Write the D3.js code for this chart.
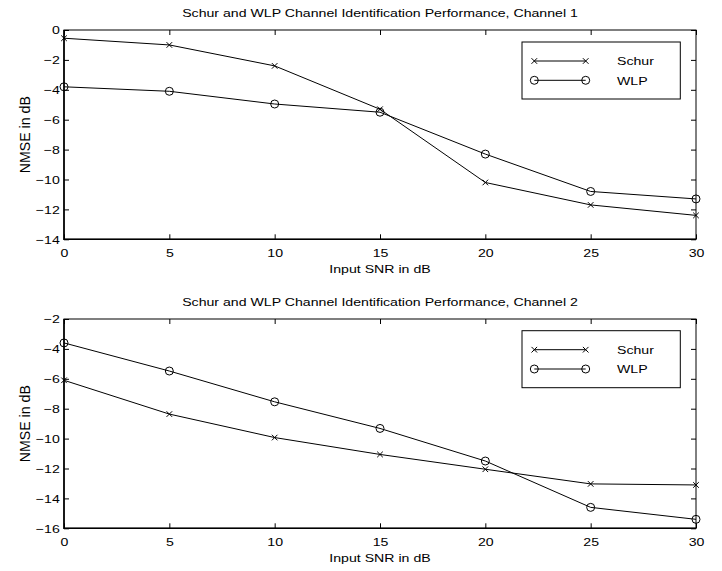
<!DOCTYPE html>
<html><head><meta charset="utf-8">
<script src="https://cdn.jsdelivr.net/npm/d3@7"></script>
<style>
html,body{margin:0;padding:0;background:#fff;}
svg{display:block;font-family:"Liberation Sans",Arial,sans-serif;}
</style></head>
<body>
<script>
const snr = [0, 5, 10, 15, 20, 25, 30];
const ch1Schur = [-0.55, -1.0, -2.4, -5.3, -10.2, -11.7, -12.4];
const ch1WLP = [-3.8, -4.1, -4.95, -5.5, -8.3, -10.8, -11.3];
const ch2Schur = [-6.1, -8.36, -9.93, -11.06, -12.05, -13.03, -13.1];
const ch2WLP = [-3.6, -5.48, -7.54, -9.32, -11.5, -14.6, -15.4];
const xTicks = [0, 5, 10, 15, 20, 25, 30];
const yTicks1 = [0, -2, -4, -6, -8, -10, -12, -14];
const yTicks2 = [-2, -4, -6, -8, -10, -12, -14, -16];
const titles = ["Schur and WLP Channel Identification Performance, Channel 1",
                "Schur and WLP Channel Identification Performance, Channel 2"];
const seriesNames = ["Schur", "WLP"];

const W = 722, H = 571;
const svg = d3.select("body").append("svg").attr("width", W).attr("height", H);

const panels = [
  {top: 30, bottom: 239.3, domain: [-14, 0], yTicks: yTicks1, s: ch1Schur, w: ch1WLP, title: titles[0], legTop: 42},
  {top: 319, bottom: 528.3, domain: [-16, -2], yTicks: yTicks2, s: ch2Schur, w: ch2WLP, title: titles[1], legTop: 330.7}
];
const left = 64, right = 696;
const fs = 11.6;
const sx = 1.22;

function wtext(sel, x, y, str, anchor) {
  return sel.append("text")
    .attr("transform", `translate(${x},${y}) scale(${sx},1)`)
    .attr("text-anchor", anchor || "start")
    .attr("font-size", fs).attr("fill", "#000").text(str);
}

panels.forEach(p => {
  const g = svg.append("g");
  const x = d3.scaleLinear().domain([0, 30]).range([left, right]);
  const y = d3.scaleLinear().domain(p.domain).range([p.bottom, p.top]);

  g.append("rect").attr("x", left).attr("y", p.top).attr("width", right - left).attr("height", p.bottom - p.top)
    .attr("fill", "none").attr("stroke", "#000").attr("stroke-width", 1);

  const xb = d3.axisBottom(x).tickValues(xTicks).tickSizeInner(-5).tickSizeOuter(0).tickPadding(9.5);
  const xt = d3.axisTop(x).tickValues(xTicks).tickSizeInner(-5).tickSizeOuter(0).tickFormat("");
  const yl = d3.axisLeft(y).tickValues(p.yTicks).tickSizeInner(-5).tickSizeOuter(0).tickPadding(3.5)
    .tickFormat(d => d < 0 ? "\u2212" + Math.abs(d) : String(d));
  const yr = d3.axisRight(y).tickValues(p.yTicks).tickSizeInner(-5).tickSizeOuter(0).tickFormat("");

  [[xb, `translate(0,${p.bottom})`], [xt, `translate(0,${p.top})`], [yl, `translate(${left},0)`], [yr, `translate(${right},0)`]]
    .forEach(([ax, tr]) => {
      const a = g.append("g").attr("transform", tr).call(ax);
      a.select(".domain").remove();
      a.selectAll("line").attr("stroke", "#000");
      a.selectAll("text").attr("font-size", fs).attr("fill", "#000")
        .attr("font-family", "Liberation Sans, Arial, sans-serif")
        .attr("transform", `scale(${sx},1)`);
    });

  g.append("line").attr("x1", left).attr("x2", left).attr("y1", p.top).attr("y2", p.bottom + 0.75)
    .attr("stroke", "#000").attr("stroke-width", 1.6);
  g.append("line").attr("x1", left).attr("x2", right).attr("y1", p.bottom).attr("y2", p.bottom)
    .attr("stroke", "#000").attr("stroke-width", 1.6);

  wtext(g, (left + right) / 2, p.top - 13, p.title, "middle");
  wtext(g, (left + right) / 2, p.bottom + 33.5, "Input SNR in dB", "middle");
  g.append("text").attr("transform", `translate(29.5,${(p.top + p.bottom) / 2}) rotate(-90) scale(${sx},${1.2})`)
    .attr("text-anchor", "middle").attr("font-size", fs).text("NMSE in dB");

  const line = d3.line().x((d, i) => x(snr[i])).y(d => y(d));
  g.append("path").datum(p.s).attr("d", line).attr("fill", "none").attr("stroke", "#000").attr("stroke-width", 1);
  g.append("path").datum(p.w).attr("d", line).attr("fill", "none").attr("stroke", "#000").attr("stroke-width", 1);

  const xm = 2.8;
  const cross = (sel, cx, cy) => {
    sel.append("path").attr("d", `M${cx - xm},${cy - xm}L${cx + xm},${cy + xm}M${cx - xm},${cy + xm}L${cx + xm},${cy - xm}`)
      .attr("stroke", "#000").attr("stroke-width", 1).attr("fill", "none");
  };
  const circ = (sel, cx, cy) => {
    sel.append("circle").attr("cx", cx).attr("cy", cy).attr("r", 4).attr("fill", "none").attr("stroke", "#000").attr("stroke-width", 1);
  };
  p.s.forEach((d, i) => cross(g, x(snr[i]), y(d)));
  p.w.forEach((d, i) => circ(g, x(snr[i]), y(d)));

  const lx0 = 522, lx1 = 680.3, ly0 = p.legTop, ly1 = p.legTop + 57;
  g.append("rect").attr("x", lx0).attr("y", ly0).attr("width", lx1 - lx0).attr("height", ly1 - ly0)
    .attr("fill", "#fff").attr("stroke", "#000").attr("stroke-width", 1);
  const rows = [ly0 + 19, ly0 + 38.3];
  seriesNames.forEach((n, i) => {
    const ry = rows[i];
    g.append("line").attr("x1", 534.3).attr("x2", 585.7).attr("y1", ry).attr("y2", ry).attr("stroke", "#000");
    if (i === 0) { cross(g, 534.3, ry); cross(g, 585.7, ry); }
    else { circ(g, 534.3, ry); circ(g, 585.7, ry); }
    wtext(g, 617, ry + 4.3, n, "start");
  });
});
</script>
</body></html>
